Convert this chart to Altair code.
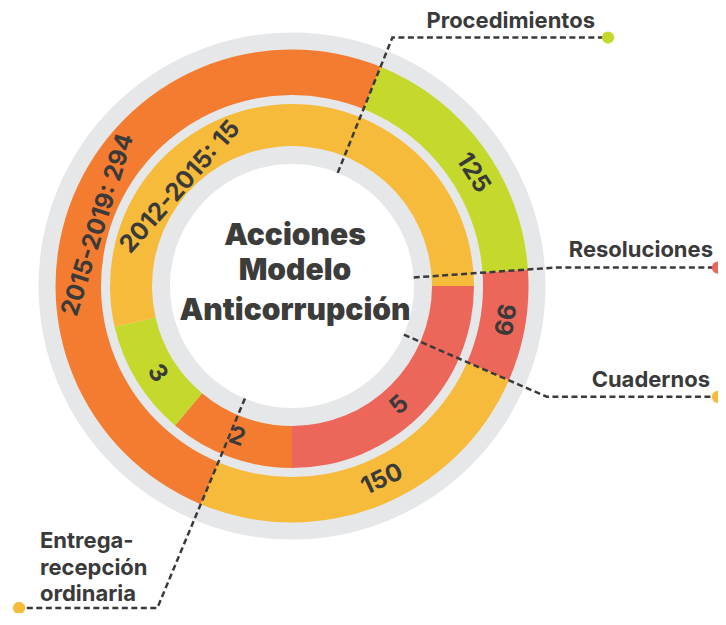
import math
import pandas as pd
import altair as alt

# ---------------- data ----------------
outer_cat = ["Procedimientos", "Resoluciones", "Cuadernos", "2015-2019"]
outer_span = [64.0, 27.5, 89.2, 179.3]          # arc sizes (deg)
outer_text = ["125", "99", "150", "2015-2019: 294"]

inner_cat = ["Resoluciones", "Entrega-recepción ordinaria", "Procedimientos", "2012-2015"]
inner_span = [90.0, 40.0, 37.0, 193.0]
inner_text = ["5", "2", "3", "2012-2015: 15"]

callouts = ["Procedimientos", "Resoluciones", "Cuadernos", "Entrega-recepción ordinaria"]
callout_lines = [["Procedimientos"], ["Resoluciones"], ["Cuadernos"], ["Entrega-", "recepción", "ordinaria"]]
title_lines = ["Acciones", "Modelo", "Anticorrupción"]

# ---------------- layout / style ----------------
OUTER_START = 22.0
INNER_START = 90.0
W, H = 710, 605
XS = alt.Scale(domain=[-284, W - 284], nice=False, zero=False)
YS = alt.Scale(domain=[278 - H, 278], nice=False, zero=False)
GRAY = "#E6E7E8"
TXT = "#3A3A3A"
colors = {
    "Procedimientos": "#C5D92D",
    "Resoluciones": "#EC6759",
    "Cuadernos": "#F7BB3B",
    "2015-2019": "#F47C30",
    "Entrega-recepción ordinaria": "#F47C30",
    "2012-2015": "#F7BB3B",
}
dot_colors = ["#C5D92D", "#EC6759", "#F7BB3B", "#F7BB3B"]
cscale = alt.Scale(domain=list(colors.keys()), range=list(colors.values()))

outer_label_theta = [58, 99, 155, 287.5]
outer_label_r = [213, 214, 214, 203]
outer_label_flip = [False, False, True, False]
inner_label_theta = [138, 200, 237, 311.5]
inner_label_r = [161, 161, 161, 149]
inner_label_flip = [True, True, True, False]
R_OUT = (191, 236.5)
R_IN = (140, 182)

def X(field=None, datum=None):
    if datum is not None:
        return alt.X(datum=datum, type="quantitative", scale=XS, axis=None)
    return alt.X(field, type="quantitative", scale=XS, axis=None)

def Y(field=None, datum=None):
    if datum is not None:
        return alt.Y(datum=datum, type="quantitative", scale=YS, axis=None)
    return alt.Y(field, type="quantitative", scale=YS, axis=None)

def polar(theta_deg, r):
    t = math.radians(theta_deg)
    return r * math.sin(t), r * math.cos(t)

# background gray annulus
bg = alt.Chart(pd.DataFrame({"k": [0]})).mark_arc(color=GRAY, radius=253.5, radius2=122).encode(
    x=X(datum=0), y=Y(datum=0), theta=alt.value(0), theta2=alt.value(2 * math.pi)
)

def ring(cats, spans, start, radii):
    df = pd.DataFrame({"cat": cats, "span": spans, "ord": list(range(len(cats)))})
    s = math.radians(start)
    return alt.Chart(df).mark_arc(radius=radii[1], radius2=radii[0]).encode(
        x=X(datum=0), y=Y(datum=0),
        theta=alt.Theta("span:Q", stack=True, scale=alt.Scale(domain=[0, 360], range=[s, s + 2 * math.pi])),
        order=alt.Order("ord:Q"),
        color=alt.Color("cat:N", scale=cscale, legend=None),
    )

outer = ring(outer_cat, outer_span, OUTER_START, R_OUT)
inner = ring(inner_cat, inner_span, INNER_START, R_IN)

# ring labels
rows = []
for txt, th, r, fl in zip(outer_text, outer_label_theta, outer_label_r, outer_label_flip):
    x, y = polar(th, r)
    rows.append({"t": txt, "x": x, "y": y, "a": (th - 180 if fl else th) % 360})
for txt, th, r, fl in zip(inner_text, inner_label_theta, inner_label_r, inner_label_flip):
    x, y = polar(th, r)
    rows.append({"t": txt, "x": x, "y": y, "a": (th - 180 if fl else th) % 360})
ring_labels = alt.Chart(pd.DataFrame(rows)).mark_text(
    font="Inter", fontSize=24.5, fontWeight="bold", color=TXT, align="center", baseline="middle"
).encode(x=X("x"), y=Y("y"), text="t:N", angle=alt.Angle("a:Q", scale=None))

# leader lines
bounds = [OUTER_START]
for sp in outer_span[:-1]:
    bounds.append(bounds[-1] + sp)
lead_angles = [bounds[0], bounds[1], bounds[2], bounds[3]]
elbow_r = [268, 264, 278, 349]
end_x = [311, 422, 422, -268]
dot_x = [316, 426, 426, -273]
lrows, drows = [], []
for i, (name, th, er, ex, dx) in enumerate(zip(callouts, lead_angles, elbow_r, end_x, dot_x)):
    x0, y0 = polar(th, 122)
    x1, y1 = polar(th, er)
    lrows += [{"n": name, "i": 0, "x": x0, "y": y0}, {"n": name, "i": 1, "x": x1, "y": y1},
              {"n": name, "i": 2, "x": ex, "y": y1}]
    drows.append({"n": name, "x": dx, "y": y1})
leaders = alt.Chart(pd.DataFrame(lrows)).mark_line(
    color=TXT, strokeWidth=2.5, strokeDash=[6, 3.5]
).encode(x=X("x"), y=Y("y"), detail="n:N", order="i:Q")
dots = alt.Chart(pd.DataFrame(drows)).mark_circle(size=150, opacity=1).encode(
    x=X("x"), y=Y("y"),
    fill=alt.Fill("n:N", scale=alt.Scale(domain=callouts, range=dot_colors), legend=None),
)

# callout texts
right_rows = [
    {"t": callout_lines[0][0], "x": 303, "y": 258},
    {"t": callout_lines[1][0], "x": 421, "y": 29},
    {"t": callout_lines[2][0], "x": 418, "y": -101},
]
left_rows = [{"t": t, "x": -252, "y": yy} for t, yy in zip(callout_lines[3], [-262, -289, -315])]
ct_right = alt.Chart(pd.DataFrame(right_rows)).mark_text(
    font="Inter", fontSize=22, fontWeight="bold", color=TXT, align="right", baseline="alphabetic"
).encode(x=X("x"), y=Y("y"), text="t:N")
ct_left = alt.Chart(pd.DataFrame(left_rows)).mark_text(
    font="Inter", fontSize=22, fontWeight="bold", color=TXT, align="left", baseline="alphabetic"
).encode(x=X("x"), y=Y("y"), text="t:N")

title = alt.Chart(pd.DataFrame({"t": title_lines, "y": [41, 6, -34]})).mark_text(
    font="Inter", fontSize=30, fontWeight=900, color="#3C3C3B", align="center", baseline="alphabetic"
).encode(x=X(datum=3), y=Y("y"), text="t:N")

chart = alt.layer(bg, outer, inner, ring_labels, leaders, dots, ct_right, ct_left, title).resolve_scale(
    theta="independent"
).properties(
    width=W, height=H, padding=0, autosize=alt.AutoSizeParams(type="none")
).configure_view(stroke=None)

chart.save("out.html", embed_options={"renderer": "svg", "actions": False})
